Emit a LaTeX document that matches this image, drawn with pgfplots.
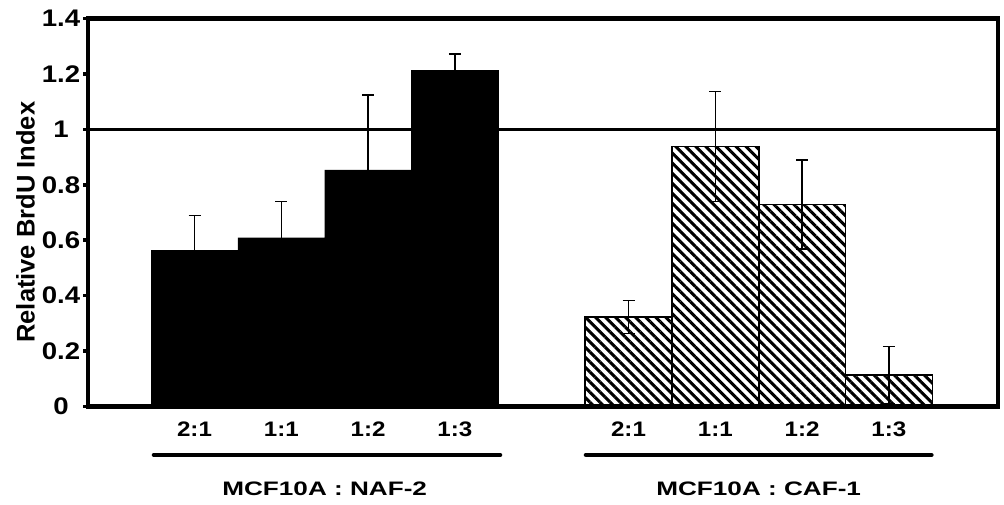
\documentclass[border=0pt]{standalone}
\usepackage{fontspec}
\setmainfont{Liberation Sans}
\newfontfamily\fA{Liberation Sans}[FakeStretch=1.15]
\newfontfamily\fB{Liberation Sans}[FakeStretch=1.34]
\usepackage{pgfplots}
\pgfplotsset{compat=1.18}
\usetikzlibrary{patterns.meta}

\begin{document}
\begin{tikzpicture}
\useasboundingbox (0,0) rectangle (1004pt,505pt);
\begin{axis}[
  at={(88pt,98.5pt)}, anchor=south west,
  scale only axis, width=910pt, height=388pt,
  xmin=-1.227, xmax=9.257, ymin=0, ymax=1.4,
  axis line style={line width=4.5pt},
  ytick={0,0.2,...,1.4}, ytick pos=left, tick align=outside,
  major tick length=5pt,
  ytick style={line width=3.5pt, black},
  xtick={0,1,2,3,5,6,7,8},
  xticklabels={2:1,1:1,1:2,1:3,2:1,1:1,1:2,1:3},
  xtick style={draw=none},
  xticklabel style={font=\fA\bfseries\fontsize{21}{24}\selectfont, yshift=-7pt},
  yticklabel style={font=\fA\bfseries\fontsize{24}{26}\selectfont, /pgf/number format/assume math mode=true, anchor=center, xshift=-22pt},
  ylabel={Relative BrdU Index},
  ylabel style={font=\bfseries\fontsize{25.5}{28}\selectfont, at={(ticklabel cs:0.475)}},
  clip=false,
]
% reference line at 1
\addplot[line width=3pt, black, forget plot] coordinates {(-1.227,1) (9.257,1)};

% MCF10A : NAF-2
\addplot[ybar, bar width=86.8pt, bar shift=0pt, fill=black, draw=black,
  error bars/.cd, y dir=plus, y explicit,
  error bar style={line width=1.6pt, black},
  error mark options={rotate=90, line width=1.6pt, mark size=6pt, black}]
  coordinates {
    (0,0.563) +- (0,0.126)
    (1,0.609) +- (0,0.131)
    (2,0.854) +- (0,0.271)
    (3,1.214) +- (0,0.057)
  };

% MCF10A : CAF-1
\addplot[ybar, bar width=86.8pt, bar shift=0pt, draw=black, line width=1.6pt,
  pattern={Lines[angle=-45, distance=7.1pt, line width=3pt]}, pattern color=black,
  error bars/.cd, y dir=both, y explicit,
  error bar style={line width=1.6pt, black},
  error mark options={rotate=90, line width=1.6pt, mark size=6pt, black}]
  coordinates {
    (5,0.323) +- (0,0.060)
    (6,0.938) +- (0,0.198)
    (7,0.729) +- (0,0.160)
    (8,0.113) +- (0,0.104)
  };

\draw[line width=4.5pt, line cap=round] (axis cs:-0.467,-0.175) -- (axis cs:3.52,-0.175);
\draw[line width=4.5pt, line cap=round] (axis cs:4.51,-0.175) -- (axis cs:8.49,-0.175);
\node[font=\fB\bfseries\fontsize{19.5}{22}\selectfont] at (axis cs:1.5,-0.297) {MCF10A : NAF-2};
\node[font=\fB\bfseries\fontsize{19.5}{22}\selectfont] at (axis cs:6.5,-0.297) {MCF10A : CAF-1};
\end{axis}
\end{tikzpicture}
\end{document}
